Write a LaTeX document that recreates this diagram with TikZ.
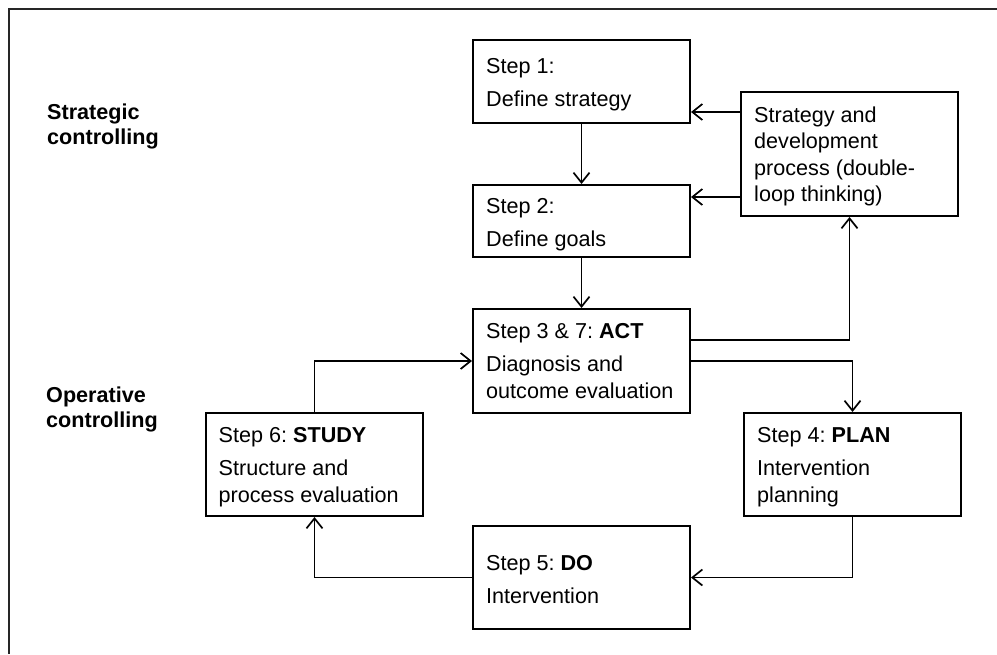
\documentclass[tikz,border=0pt]{standalone}
\usepackage{fontspec}
\setmainfont{Liberation Sans}
\usetikzlibrary{arrows.meta}
\frenchspacing
\tikzset{
  stepbox/.style={draw=black, line width=2pt, fill=white, anchor=north west, inner sep=0pt},
  txt/.style={anchor=base west, inner sep=0pt, font=\fontsize{21.6pt}{26.5pt}\selectfont},
  side/.style={anchor=base west, inner sep=0pt, font=\fontsize{21.6pt}{25.5pt}\selectfont\bfseries},
  arr/.style={draw=black, line width=1.7pt, -{Straight Barb[length=10pt,width=16pt,line width=1.7pt]}},
  frameline/.style={draw=black!85, line width=1.1pt}
}
\newcommand{\tb}[1]{\parbox[t]{205pt}{\raggedright\frenchspacing #1}}
\begin{document}
\begin{tikzpicture}[x=1pt,y=1pt]
\useasboundingbox (0,0) rectangle (997,-654);
\fill[white] (0,0) rectangle (997,-654);
% frame
\coordinate (fa) at (9,-9);
\coordinate (fb) at (997,-9);
\coordinate (fc) at (9,-654);
\draw[frameline] (fb) -- (fa) -- (fc);

% boxes
\node[stepbox, minimum width=217pt, minimum height=83pt]  (s1) at (472,-39) {};
\node[stepbox, minimum width=217pt, minimum height=72pt]  (s2) at (472,-184) {};
\node[stepbox, minimum width=217pt, minimum height=124pt] (sd) at (740,-91) {};
\node[stepbox, minimum width=217pt, minimum height=104pt] (s3) at (472,-308) {};
\node[stepbox, minimum width=217pt, minimum height=103pt] (s6) at (205,-412) {};
\node[stepbox, minimum width=217pt, minimum height=103pt] (s4) at (743,-412) {};
\node[stepbox, minimum width=217pt, minimum height=103pt] (s5) at (472,-525) {};

% texts
\node[txt] (t1) at ([xshift=14pt,yshift=-34pt]s1.north west) {\tb{Step 1:\\[6.5pt]Define strategy}};
\node[txt] (t2) at ([xshift=14pt,yshift=-29pt]s2.north west) {\tb{Step 2:\\[6.5pt]Define goals}};
\node[txt] (td) at ([xshift=14pt,yshift=-31pt]sd.north west) {\tb{Strategy and\\development\\process (double-\\loop thinking)}};
\node[txt] (t3) at ([xshift=14pt,yshift=-30.5pt]s3.north west) {\tb{Step 3 \& 7: \textbf{ACT}\\[6.5pt]Diagnosis and\\outcome evaluation}};
\node[txt] (t6) at ([xshift=13.5pt,yshift=-30.5pt]s6.north west) {\tb{Step 6: \textbf{STUDY}\\[6.5pt]Structure and\\process evaluation}};
\node[txt] (t4) at ([xshift=14pt,yshift=-30.5pt]s4.north west) {\tb{Step 4: \textbf{PLAN}\\[6.5pt]Intervention\\planning}};
\node[txt] (t5) at ([xshift=14pt,yshift=-45pt]s5.north west) {\tb{Step 5: \textbf{DO}\\[6.5pt]Intervention}};

% side labels
\node[side] (ls) at (47,-119) {\parbox[t]{150pt}{\raggedright Strategic\\controlling}};
\node[side] (lo) at (46,-402) {\parbox[t]{150pt}{\raggedright Operative\\controlling}};

% connectors
\coordinate (a1) at ([yshift=-21pt]sd.north west);
\coordinate (a2) at ([yshift=-106pt]sd.north west);
\draw[arr] (s1) -- (s2);
\draw[arr] (s2) -- (s3);
\draw[arr] (a1) -- (a1 -| s1.east);
\draw[arr] (a2) -- (a2 -| s2.east);
\draw[arr] ([yshift=21pt]s3.east) -| (sd.south);
\draw[arr] (s3.east) -| (s4.north);
\draw[arr] (s4.south) |- (s5.east);
\draw[arr] (s5.west) -| (s6.south);
\draw[arr] (s6.north) |- (s3.west);
\end{tikzpicture}
\end{document}
